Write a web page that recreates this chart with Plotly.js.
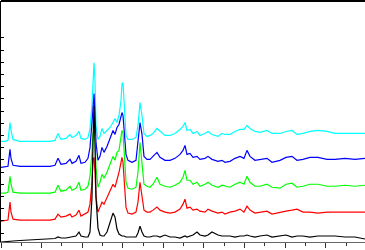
<!DOCTYPE html>
<html>
<head>
<meta charset="utf-8">
<script src="https://cdn.plot.ly/plotly-3.0.1.min.js"></script>
<style>html,body{margin:0;padding:0;background:#fff;}#chart{width:365px;height:250px;}</style>
</head>
<body>
<div id="chart"></div>
<script>
// 2-theta positions (degrees), shared by all patterns
var twoTheta = [0,0.99,1.72,2.22,2.46,2.96,4.68,7.14,9.61,12.07,13.30,14.04,14.78,16.01,17.00,17.49,18.47,19.21,19.70,20.69,21.43,21.92,22.41,22.66,22.91,23.15,23.40,23.89,24.38,24.88,25.37,26.11,26.85,27.59,28.08,28.57,29.06,29.56,29.80,30.05,30.30,30.79,31.28,32.27,33.25,33.74,34.24,34.73,35.22,35.96,36.70,37.44,38.42,39.16,40.39,41.63,42.86,44.09,44.83,45.32,45.81,46.55,47.29,48.28,49.01,50.25,50.99,51.97,53.45,54.43,55.17,56.40,57.64,58.87,59.85,60.59,61.33,62.56,63.79,65.52,66.75,68.72,70.20,71.67,72.91,74.38,76.11,78.08,80.30,82.27,84.73,87.19,89.66];

var blackSeries = [0,0.5,1,1,1,1,1.5,2,2.5,3,3.5,5,4,4,5,5,6,10,6,5,5,10,45,100,137,100,45,14,7,6,6,10,20,29,25,13,8,6,6,6,6,5,5,5,5,9,16,10,6,5,5,6,6,5,7,5,5,4,5,6,5,6,7,10,7,6,7,10,7,6,6,6,5,6,6,7,6,5,6,7,5,6,7,5,6,6,5,6,6,6,5,5,3];

var redSeries = [21,22,22,40,30,23,22,22,22,22,23,28,25,26,28,25,27,32,26,28,30,38,60,82,85,70,45,30,36,40,38,45,52,58,55,62,70,80,85,80,60,35,29,28,30,40,60,45,32,30,30,32,35,32,30,29,30,33,38,43,34,35,32,33,31,30,33,31,29,30,28,30,31,33,30,36,32,29,30,31,28,30,31,32,33,30,30,29,30,30,30,30,30];

var greenSeries = [49,49,50,66,58,50,49,49,49,49,50,57,51,52,56,52,54,60,52,53,56,66,90,108,112,105,75,55,60,68,64,70,78,86,82,90,92,105,112,110,90,60,54,53,55,70,100,80,58,56,55,58,65,58,56,55,57,60,65,72,62,62,58,60,56,58,60,57,55,57,56,55,58,60,58,66,60,56,56,58,55,54,58,59,55,56,58,58,56,56,57,56,57];

var blueSeries = [75,76,76,93,84,77,76,76,76,76,77,84,78,79,83,79,81,87,79,80,84,95,120,140,149,130,100,82,86,95,90,96,104,112,108,115,118,125,130,127,110,88,82,80,82,100,120,108,86,83,83,86,90,85,82,82,84,88,92,97,88,89,85,86,83,84,86,83,81,82,80,81,84,86,84,92,86,82,83,84,80,82,85,86,82,83,85,85,83,83,84,83,84];

var cyanSeries = [101,101,102,120,112,103,101,101,101,101,102,109,103,104,108,105,107,111,104,103,105,114,137,167,180,162,117,103,106,114,109,112,115,120,124,120,127,142,159,160,137,107,103,103,105,117,140,127,109,106,107,109,114,111,107,107,109,113,116,120,112,113,109,111,107,109,111,108,106,109,108,108,111,113,113,117,114,111,110,112,109,109,111,112,108,109,111,112,111,109,109,109,109];

var yTickVals = [9,21.25,33.5,45.75,58,70.25,82.5,94.75,107,119.25,131.5,143.75,156,168.25,180.5,192.75,205];

var seriesList = [
  {y: cyanSeries, color: '#00ffff'},
  {y: blueSeries, color: '#0000ff'},
  {y: greenSeries, color: '#00ff00'},
  {y: redSeries, color: '#ff0000'},
  {y: blackSeries, color: '#000000'}
];

var traces = seriesList.map(function(s){
  return {x: twoTheta, y: s.y, type: 'scatter', mode: 'lines',
          line: {color: s.color, width: 1.2}, hoverinfo: 'skip', showlegend: false};
});

var layout = {
  width: 365, height: 250,
  margin: {l: 1, r: 0, t: 1, b: 8, pad: 0},
  paper_bgcolor: '#ffffff', plot_bgcolor: '#ffffff',
  showlegend: false,
  xaxis: {
    range: [0, 89.66], showgrid: false, zeroline: false,
    showline: true, linecolor: '#666666', linewidth: 1,
    ticks: 'outside', ticklen: 5, tickwidth: 1, tickcolor: '#333333',
    tick0: 0, dtick: 10, showticklabels: false,
    minor: {ticks: 'outside', ticklen: 3, tickwidth: 1, tickcolor: '#333333', dtick: 5, showgrid: false}
  },
  yaxis: {
    range: [0, 242], showgrid: false, zeroline: false,
    showline: true, linecolor: '#000000', linewidth: 2,
    ticks: 'inside', ticklen: 3, tickwidth: 1, tickcolor: '#000000',
    tickmode: 'array', tickvals: yTickVals, showticklabels: false
  },
  shapes: [{type: 'line', xref: 'paper', yref: 'paper', x0: 0, x1: 1, y0: 1, y1: 1,
            line: {color: '#000000', width: 2}}]
};

Plotly.newPlot('chart', traces, layout, {staticPlot: true, displayModeBar: false});
</script>
</body>
</html>
